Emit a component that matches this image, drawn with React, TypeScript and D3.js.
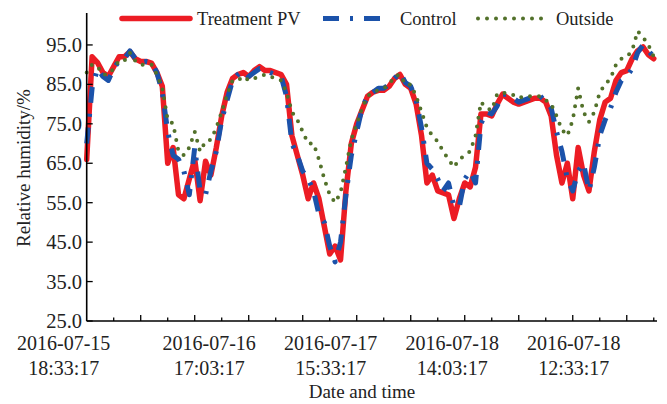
import React from 'react';
import * as d3 from 'd3';

// Hourly relative humidity readings (%) starting 2016-07-15 18:33:17
const treatmentPV = [
  66, 92, 90.5, 88, 87, 89.5, 92, 92, 93.3, 91.5,
  90.8, 90.8, 90.4, 88, 84.5, 65, 69, 57, 56, 61,
  66, 55.5, 65.5, 62, 69, 77, 83, 86.5, 87.5, 88,
  87, 88.5, 89.5, 88.5, 88.5, 88, 87.5, 85, 72, 67,
  62, 56, 60, 56, 49, 42, 44, 40.5, 58, 70,
  75, 78.5, 82, 83, 83.5, 83.5, 84.5, 86.5, 87.5, 85,
  84, 80, 72, 60, 62, 58, 57.5, 57, 51, 56,
  60, 59, 64, 77.5, 77.5, 77, 80, 82.5, 81.5, 80.5,
  80, 80.5, 81, 81.5, 81.5, 80.5, 77, 67, 60, 65,
  56, 69, 62, 58, 68, 76, 80.5, 81.5, 86, 88,
  88.5, 91.5, 93.5, 94.5, 92.5, 91.5,
];

const control = [
  70, 84, 89, 87, 86, 89, 91, 91.5, 93.5, 91.5,
  90.5, 90.8, 90.5, 88, 83, 73, 67, 66, 63, 57,
  69, 58, 57, 63, 68, 76, 81, 86, 87.5, 88.5,
  87, 88, 89, 88.5, 88, 87.5, 87, 82, 70, 67,
  63, 61, 58, 52, 50, 44, 40, 45, 57, 67,
  73, 79, 82, 83, 84, 84, 85, 86.5, 88, 85.5,
  84.5, 81, 74, 65, 63.5, 61, 58, 60, 54, 54,
  61, 63, 60, 75, 78, 77.5, 79.5, 82.5, 82.5, 81.5,
  80.5, 81, 81.5, 82, 82, 80.5, 79, 73, 68, 61,
  58, 63, 65, 58, 64, 72, 76, 79, 83, 86,
  87, 89, 93, 95, 93.5, 92,
];

const outside = [
  88, 90, 89.5, 87.5, 87.5, 89, 91, 91, 93, 91,
  90, 90, 90, 87.5, 84, 76, 75, 68, 67, 69,
  73, 68, 70.5, 71, 74, 78, 82.5, 86, 86, 87,
  86, 86.5, 87, 87.5, 87, 86.5, 86, 83, 78, 76,
  73, 70, 70, 66, 61, 57, 55, 57.5, 64, 71,
  75, 79, 82, 83, 83.5, 84, 85, 87, 87.5, 85,
  85, 82, 78, 74, 72, 70.5, 68, 66, 64, 66,
  67, 68, 72, 80.5, 79, 78.5, 82.5, 83, 82.5, 82.3,
  81.5, 82, 82, 82, 82, 81, 80, 77, 73.5, 72,
  76, 84, 78, 75.5, 78, 83, 85, 86.5, 90, 91.5,
  92, 93.5, 98.5, 97, 95, 92,
];

const yTicks = [25, 35, 45, 55, 65, 75, 85, 95];
const xTickHours = d3.range(5, 106, 5);
const xLabelHours = [0, 22.5, 45, 67.5, 90];
const xLabelDates = ['2016-07-15', '2016-07-16', '2016-07-17', '2016-07-18', '2016-07-18'];
const xLabelTimes = ['18:33:17', '17:03:17', '15:33:17', '14:03:17', '12:33:17'];

const seriesStyles = [
  { name: 'Treatment PV', values: treatmentPV, color: '#ec1c24', width: 5.5, dash: undefined as string | undefined, cap: 'round' as const },
  { name: 'Control', values: control, color: '#1b52aa', width: 5, dash: '16 11 3 11', cap: 'butt' as const },
  { name: 'Outside', values: outside, color: '#52712a', width: 4, dash: '0 9', cap: 'round' as const },
];

const W = 667;
const H = 404;
const FONT = '"Liberation Serif", "Times New Roman", serif';

export default function App() {
  const x = d3.scaleLinear().domain([0, 105.6]).range([86.7, 657]);
  const y = d3.scaleLinear().domain([25, 103.1]).range([321, 13]);
  const x0 = x(0);
  const y0 = y(25);

  const line = d3
    .line<number>()
    .x((_, i) => x(i))
    .y((d) => y(d))
    .curve(d3.curveLinear);

  const legend = [
    { lx0: 122, lx1: 190, tx: 197 },
    { lx0: 323, lx1: 389, tx: 400 },
    { lx0: 478, lx1: 549, tx: 556 },
  ];

  return (
    <svg
      width={W}
      height={H}
      viewBox={`0 0 ${W} ${H}`}
      style={{ position: 'absolute', left: 0, top: 0, background: '#fff' }}
      fontFamily={FONT}
    >
      <rect x={0} y={0} width={W} height={H} fill="#fff" />

      {/* series */}
      {seriesStyles.map((s) => (
        <path
          key={s.name}
          d={line(s.values) || ''}
          fill="none"
          stroke={s.color}
          strokeWidth={s.width}
          strokeDasharray={s.dash}
          strokeLinecap={s.cap}
          strokeLinejoin="round"
        />
      ))}

      {/* axes */}
      <line x1={x0} y1={13} x2={x0} y2={y0} stroke="#000" strokeWidth={1.6} />
      <line x1={x0} y1={y0} x2={657} y2={y0} stroke="#000" strokeWidth={1.6} />

      {yTicks.map((t) => (
        <g key={t}>
          <line x1={x0} x2={x0 + 6} y1={y(t)} y2={y(t)} stroke="#000" strokeWidth={1.3} />
          <text x={82} y={y(t)} dy="0.34em" textAnchor="end" fontSize={20.5} fill="#222">
            {d3.format('.1f')(t)}
          </text>
        </g>
      ))}

      {xTickHours.map((h) => (
        <line
          key={h}
          x1={x(h)}
          x2={x(h)}
          y1={y0}
          y2={y0 - (h % 10 === 0 ? 6 : 3.5)}
          stroke="#000"
          strokeWidth={1.3}
        />
      ))}

      {xLabelHours.map((h, i) => {
        // the first label sits left of the axis origin
        const cx = x(h) + (i === 0 ? -23 : 1);
        return (
          <text key={i} textAnchor="middle" fontSize={20} fill="#222">
            <tspan x={cx} y={350}>{xLabelDates[i]}</tspan>
            <tspan x={cx} y={375}>{xLabelTimes[i]}</tspan>
          </text>
        );
      })}

      <text x={362} y={398} textAnchor="middle" fontSize={19} fill="#222">
        Date and time
      </text>
      <text
        transform="translate(30,168) rotate(-90)"
        textAnchor="middle"
        fontSize={19}
        fill="#222"
      >
        Relative humidity/%
      </text>

      {/* legend */}
      {seriesStyles.map((s, i) => (
        <g key={s.name}>
          <line
            x1={legend[i].lx0}
            x2={legend[i].lx1}
            y1={18.5}
            y2={18.5}
            stroke={s.color}
            strokeWidth={s.width}
            strokeDasharray={s.dash}
            strokeLinecap={s.cap}
          />
          <text x={legend[i].tx} y={25} fontSize={18.5} fill="#222">
            {s.name}
          </text>
        </g>
      ))}
    </svg>
  );
}
